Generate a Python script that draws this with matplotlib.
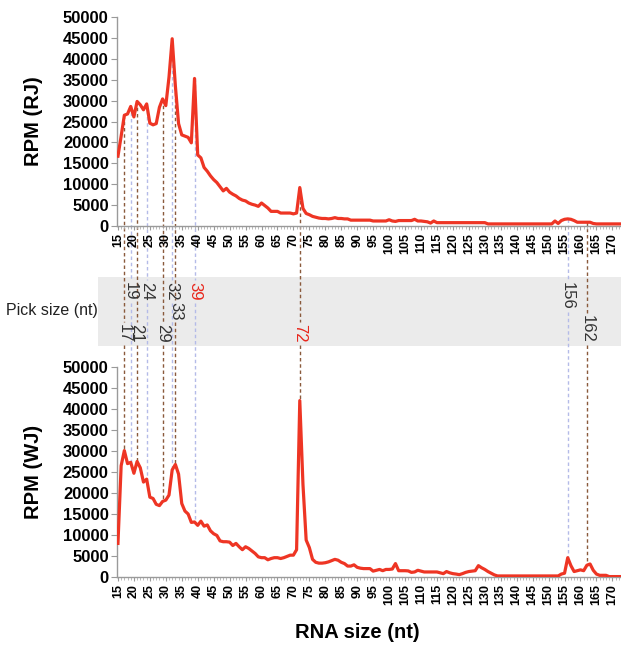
import matplotlib
matplotlib.use("Agg")
import matplotlib.pyplot as plt
from matplotlib.lines import Line2D
from matplotlib.patches import Rectangle
from matplotlib.ticker import MultipleLocator

plt.rcParams["font.family"] = ["Liberation Sans", "DejaVu Sans"]

# RNA size (nt), one point per nucleotide
sizes = list(range(15, 175))

# RPM, RJ library (upper panel)
rpm_rj = [
    16700, 21500, 26500, 26800, 28600, 26100, 29800, 29000, 27800, 29200,   # 15-24
    24600, 24200, 24500, 28400, 30400, 28800, 35600, 44800, 33500, 24500,   # 25-34
    21800, 21500, 21200, 19900, 35300, 17000, 16300, 14000, 13100, 12000,   # 35-44
    11100, 10400, 9400, 8400, 9000, 8100, 7600, 7200, 6600, 6200,           # 45-54
    6000, 5500, 5200, 5000, 4700, 5500, 4900, 4300, 3500, 3500,             # 55-64
    3500, 3100, 3100, 3100, 3100, 2900, 3100, 9200, 4200, 3000,             # 65-74
    2700, 2300, 2100, 1900, 1800, 1800, 1700, 1800, 2000, 1800,             # 75-84
    1800, 1700, 1700, 1400, 1400, 1400, 1400, 1400, 1400, 1400,             # 85-94
    1200, 1200, 1200, 1200, 1200, 1500, 1200, 1100, 1300, 1300,             # 95-104
    1300, 1300, 1300, 1600, 1200, 1200, 1100, 1000, 700, 1200,              # 105-114
    800, 800, 800, 800, 800, 800, 800, 800, 800, 800,                       # 115-124
    800, 800, 800, 800, 800, 800, 500, 500, 500, 500,                       # 125-134
    500, 500, 500, 500, 500, 500, 500, 500, 500, 500,                       # 135-144
    500, 500, 500, 500, 500, 500, 500, 1200, 600, 1300,                     # 145-154
    1600, 1700, 1600, 1300, 900, 900, 900, 900, 900, 600,                   # 155-164
    500, 500, 500, 500, 500, 500, 500, 500, 500, 500,                       # 165-174
]

# RPM, WJ library (lower panel)
rpm_wj = [
    8000, 26500, 30100, 27000, 27300, 24700, 27500, 26000, 22600, 23300,    # 15-24
    19000, 18700, 17300, 17000, 18000, 18300, 19500, 25500, 26800, 24500,   # 25-34
    17500, 15700, 15000, 13000, 13100, 12300, 13300, 12100, 12400, 11000,   # 35-44
    10300, 9900, 8600, 8400, 8400, 8300, 7500, 8000, 7200, 6500,            # 45-54
    7200, 6800, 6200, 5600, 4800, 4600, 4600, 4100, 4400, 4600,             # 55-64
    4600, 4400, 4600, 4900, 5200, 5200, 6500, 42000, 22000, 8800,           # 65-74
    7000, 4200, 3500, 3300, 3300, 3400, 3600, 3900, 4200, 4000,             # 75-84
    3500, 3200, 2600, 2600, 2900, 2300, 2100, 2000, 2000, 2000,             # 85-94
    1400, 1600, 1800, 1500, 1800, 1800, 1900, 3200, 1500, 1500,             # 95-104
    1500, 1450, 1100, 1200, 1600, 1400, 1200, 1200, 1200, 1200,             # 105-114
    1200, 1000, 800, 1300, 1000, 800, 700, 560, 800, 1100,                  # 115-124
    1300, 1400, 1500, 2700, 2200, 1800, 1300, 900, 500, 250,                # 125-134
    250, 250, 250, 250, 250, 250, 250, 250, 250, 250,                       # 135-144
    250, 250, 250, 250, 250, 250, 250, 250, 250, 700,                       # 145-154
    900, 4600, 2700, 1300, 1500, 1700, 1500, 2800, 3100, 1600,              # 155-164
    700, 400, 400, 400, 100, 100, 100, 100, 100, 100,                       # 165-174
]

# picked sizes and the row of the grey band where each label sits
pick_sizes = [17, 19, 21, 24, 29, 32, 33, 39, 72, 156, 162]
pick_rows = ["bottom", "top", "bottom", "top", "bottom", "top", "middle", "top", "bottom", "top", "bottom"]
pick_red = [39, 72]
pick_brown = [17, 21, 29, 33, 72, 162]

W, H = 621, 650
RED = "#ee3524"
BROWN = "#8a5a3c"
BLUE = "#b4bbe8"
BAND = "#ebebeb"

fig = plt.figure(figsize=(W / 100, H / 100), dpi=100)


def fx(px):
    return px / W


def fy(px):
    return 1 - px / H


left, right = 117, 621
ax1 = fig.add_axes([fx(left), fy(226), fx(right - left), (226 - 17) / H])
ax2 = fig.add_axes([fx(left), fy(577), fx(right - left), (577 - 367) / H])

for ax, vals, lab in [(ax1, rpm_rj, "RPM (RJ)"), (ax2, rpm_wj, "RPM (WJ)")]:
    ax.plot(sizes, vals, color=RED, lw=2.3, solid_joinstyle="round", zorder=3)
    ax.set_xlim(14.7, 172.7)
    ax.set_ylim(0, 50000)
    ax.yaxis.set_major_locator(MultipleLocator(5000))
    ax.set_xticks(range(15, 171, 5))
    ax.xaxis.set_minor_locator(MultipleLocator(1))
    for s in ["top", "right"]:
        ax.spines[s].set_visible(False)
    for s in ["left", "bottom"]:
        ax.spines[s].set_color("#9a9a9a")
        ax.spines[s].set_linewidth(1.0)
    ax.tick_params(axis="y", colors="#9a9a9a", labelcolor="black", length=4, labelsize=12, pad=2)
    ax.tick_params(axis="x", which="major", colors="#9a9a9a", labelcolor="black",
                   length=3, labelsize=9, pad=2, labelrotation=90)
    ax.tick_params(axis="x", which="minor", colors="#b0b0b0", length=2.5)
    for t in ax.get_xticklabels() + ax.get_yticklabels():
        t.set_fontweight("bold")
    ax.set_ylabel(lab, fontsize=14.5, fontweight="bold")
    ax.yaxis.set_label_coords(-0.147, 0.5)
    ax.patch.set_visible(False)
    ax.set_zorder(1)   # curve above the guide lines

# grey band with the picked sizes
band_top, band_bot = 277, 346
fig.add_artist(Rectangle((fx(98), fy(band_bot)), 1 - fx(98), (band_bot - band_top) / H,
                         transform=fig.transFigure, facecolor=BAND, edgecolor="none", zorder=0.5))
fig.text(fx(52), fy(311), "Pick size (nt)", fontsize=11.5, ha="center", va="center", color="#222222")

to_fig = fig.transFigure.inverted()
FS = 12
digit_px = 0.556 * FS * 100 / 72


def data_to_fig(ax, x, y):
    return to_fig.transform(ax.transData.transform((x, y)))


for n, row in zip(pick_sizes, pick_rows):
    i = sizes.index(n)
    col = BROWN if n in pick_brown else BLUE
    x_f, y_top = data_to_fig(ax1, n, rpm_rj[i])
    y_bot = data_to_fig(ax2, n, rpm_wj[i])[1]
    length = len(str(n)) * digit_px
    if row == "top":
        lab0 = band_top + 5
    elif row == "bottom":
        lab0 = band_bot - 3.5 - length
    else:
        lab0 = 311 - length / 2
    lab1 = lab0 + length
    for ya, yb in [(y_top, fy(lab0 - 2)), (fy(lab1 + 2), y_bot)]:
        fig.add_artist(Line2D([x_f, x_f], [ya, yb], transform=fig.transFigure, color=col,
                              lw=1.0, linestyle=(0, (2.5, 2)), zorder=0.8))
    fig.text(x_f, fy((lab0 + lab1) / 2), str(n), rotation=270, ha="center", va="center",
             fontsize=FS, color="#e8261c" if n in pick_red else "#333333", zorder=2)

fig.text(fx(357), fy(633), "RNA size (nt)", fontsize=14.5, fontweight="bold", ha="center", va="center")

fig.savefig("out.png", dpi=100)
